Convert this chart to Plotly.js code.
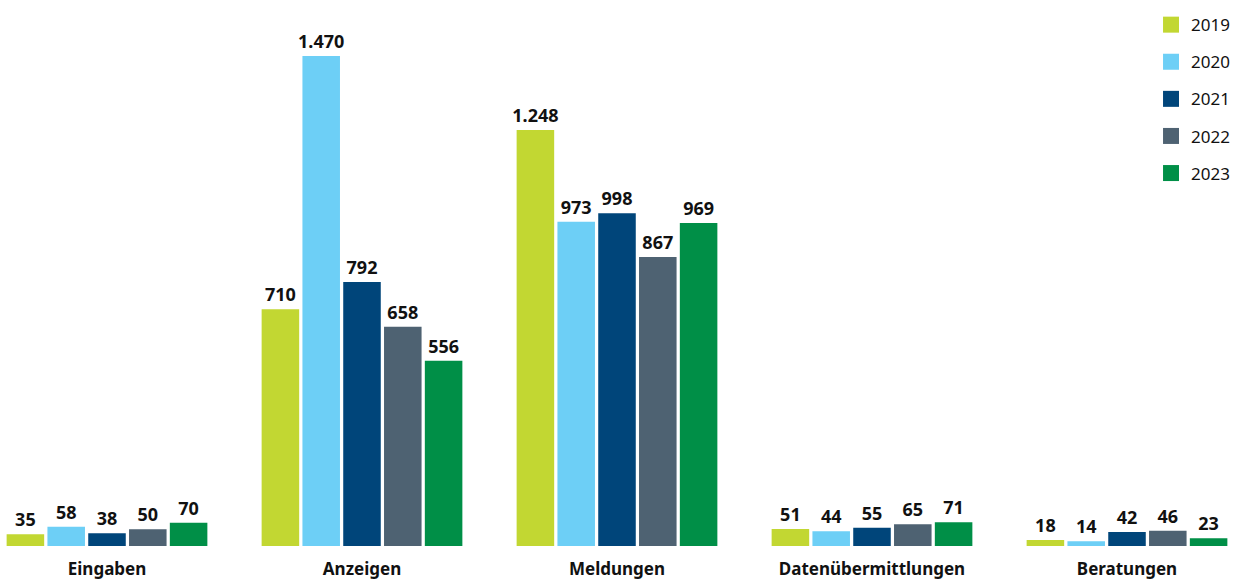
<!DOCTYPE html>
<html>
<head>
<meta charset="utf-8">
<script src="https://cdn.plot.ly/plotly-3.0.1.min.js"></script>
<style>html,body{margin:0;padding:0;background:#fff;}#chart{width:1239px;height:581px;}</style>
</head>
<body>
<div id="chart"></div>
<script>
const categories = ["Eingaben", "Anzeigen", "Meldungen", "Datenübermittlungen", "Beratungen"];
const years = ["2019", "2020", "2021", "2022", "2023"];
const values2019 = [35, 710, 1248, 51, 18];
const values2020 = [58, 1470, 973, 44, 14];
const values2021 = [38, 792, 998, 55, 42];
const values2022 = [50, 658, 867, 65, 46];
const values2023 = [70, 556, 969, 71, 23];
const colors = ["#c2d732", "#6dcff6", "#00457a", "#4e6272", "#008f47"];

const series = [values2019, values2020, values2021, values2022, values2023];
const font = "Noto Sans, Open Sans, sans-serif";

const traces = [];
series.forEach((vals, i) => {
  traces.push({
    type: "bar",
    name: years[i],
    x: categories,
    y: vals,
    marker: {color: colors[i]},
    text: vals,
    texttemplate: "%{y:,}",
    textposition: "outside",
    constraintext: "none",
    textfont: {family: font, size: 18, color: "#111", weight: 700},
    cliponaxis: false,
    showlegend: false,
    legendgroup: years[i],
    hoverinfo: "x+y+name"
  });
});
series.forEach((vals, i) => {
  traces.push({
    type: "scatter",
    mode: "markers",
    name: years[i],
    x: [null],
    y: [null],
    marker: {color: colors[i], symbol: "square", size: 16},
    legendgroup: years[i],
    showlegend: true,
    hoverinfo: "skip"
  });
});

const layout = {
  width: 1239,
  height: 581,
  margin: {l: 0, r: 0, t: 0, b: 35},
  paper_bgcolor: "#fff",
  plot_bgcolor: "#fff",
  separators: ",.",
  barmode: "group",
  bargap: 0.2,
  bargroupgap: 0.08,
  font: {family: font, size: 17, color: "#111"},
  xaxis: {
    type: "category",
    range: [-0.4196, 4.4392],
    showgrid: false,
    showline: false,
    zeroline: false,
    ticks: "",
    ticklabelstandoff: 11,
    tickfont: {family: font, size: 17, color: "#111", weight: 700},
    fixedrange: true
  },
  yaxis: {
    range: [0, 1638],
    visible: false,
    showgrid: false,
    zeroline: false,
    fixedrange: true
  },
  legend: {
    x: 0.929, xanchor: "left",
    y: 0.987, yanchor: "top",
    xref: "paper", yref: "paper",
    tracegroupgap: 12,
    font: {family: font, size: 17, color: "#111"},
    bgcolor: "rgba(0,0,0,0)",
    itemsizing: "trace"
  },
  showlegend: true
};

Plotly.newPlot("chart", traces, layout, {displayModeBar: false, staticPlot: true});
</script>
</body>
</html>
